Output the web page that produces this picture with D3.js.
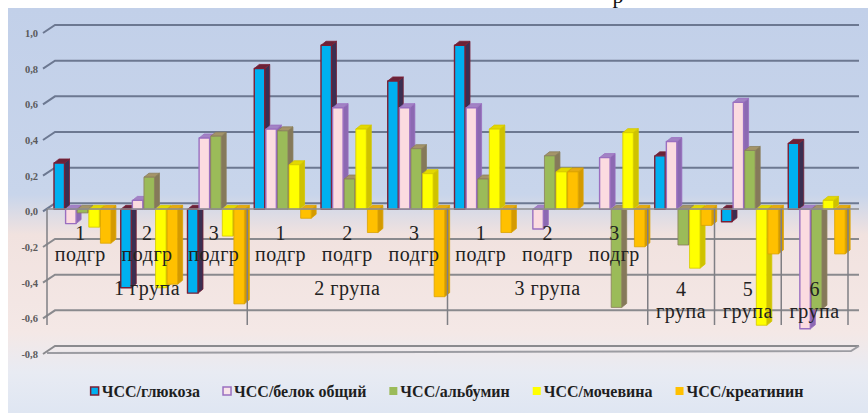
<!DOCTYPE html>
<html>
<head>
<meta charset="utf-8">
<script src="https://cdn.jsdelivr.net/npm/d3@7"></script>
<style>
  html, body { margin: 0; padding: 0; background: #ffffff; }
  svg { display: block; }
  .serif { font-family: "Liberation Serif", "Times New Roman", "DejaVu Serif", serif; }
</style>
</head>
<body>
<svg id="chart" width="868" height="413"></svg>
<script>
// ---- data ----
const groupNames = ["1 група", "2 група", "3 група", "4 група", "5 група", "6 група"];
const subgroupNames = ["1 подгр", "2 подгр", "3 подгр",
                       "1 подгр", "2 подгр", "3 подгр",
                       "1 подгр", "2 подгр", "3 подгр",
                       "", "", ""];
const categoryGroup = [0, 0, 0, 1, 1, 1, 2, 2, 2, 3, 4, 5];
const seriesNames = ["ЧСС/глюкоза", "ЧСС/белок общий", "ЧСС/альбумин", "ЧСС/мочевина", "ЧСС/креатинин"];
const glucose      = [ 0.26, -0.44, -0.47,  0.79,  0.92,  0.72,  0.92,  0.00,  0.00,  0.30, -0.07,  0.37];
const totalProtein = [-0.08,  0.05,  0.40,  0.45,  0.57,  0.57,  0.57, -0.11,  0.29,  0.38,  0.60, -0.67];
const albumin      = [-0.02,  0.18,  0.41,  0.44,  0.17,  0.34,  0.17,  0.30, -0.55, -0.20,  0.33, -0.56];
const urea         = [-0.10, -0.44, -0.15,  0.25,  0.45,  0.20,  0.45,  0.21,  0.43, -0.33, -0.65,  0.05];
const creatinine   = [-0.19, -0.42, -0.53, -0.05, -0.13, -0.49, -0.13,  0.21, -0.21, -0.09, -0.25, -0.25];
const tickValues = [-0.8, -0.6, -0.4, -0.2, 0, 0.2, 0.4, 0.6, 0.8, 1.0];

const seriesValues = [glucose, totalProtein, albumin, urea, creatinine];

// ---- styles ----
const barStyles = [
  { front: "#00b0f0", side: "#3a2f52", top: "#6a2238", stroke: "#7a1f35" },
  { front: "#fbdbe0", side: "#8c69b2", top: "#a283c4", stroke: "#9a6fc0" },
  { front: "#9bbb59", side: "#85795a", top: "#a49469", stroke: "#8a7f5c" },
  { front: "#ffff00", side: "#cfc200", top: "#e3d800", stroke: "#d4c800" },
  { front: "#ffc000", side: "#d49a00", top: "#e6ab10", stroke: "#dba200" }
];
const legendStyles = [
  { fill: "#00b0f0", stroke: "#7a1f35" },
  { fill: "#f8e4ea", stroke: "#9a6fc0" },
  { fill: "#9bbb59", stroke: "none" },
  { fill: "#ffff00", stroke: "none" },
  { fill: "#ffc000", stroke: "none" }
];

const svg = d3.select("#chart");

// ---- background ----
const defs = svg.append("defs");
const bg = defs.append("linearGradient").attr("id", "bgGrad")
  .attr("x1", 0).attr("y1", 0).attr("x2", 0).attr("y2", 1);
[["0%", "#c2d0e9"], ["46%", "#c8d5eb"], ["56%", "#f1e2df"], ["80%", "#f4e8e6"],
 ["90%", "#e8ebf3"], ["100%", "#dfe6f2"]].forEach(([o, c]) =>
  bg.append("stop").attr("offset", o).attr("stop-color", c));

svg.append("rect").attr("x", 0).attr("y", 0).attr("width", 868).attr("height", 413).attr("fill", "#ffffff");
svg.append("rect").attr("x", 8).attr("y", 8).attr("width", 860).attr("height", 405).attr("fill", "url(#bgGrad)");

// tail of the heading above the chart
svg.append("text").attr("class", "serif").attr("x", 618).attr("y", 3).attr("text-anchor", "middle")
  .attr("font-size", 22).attr("fill", "#111").text("р");

// ---- scales ----
const categoryKeys = d3.range(subgroupNames.length).map(String);
const x0 = d3.scaleBand().domain(categoryKeys).range([47, 848]).padding(0);
const x1 = d3.scaleBand().domain(seriesNames).range([7, 65]).padding(0);
const yLabel = d3.scaleLinear().domain([-0.8, 1.0]).range([354, 33]);
const yBar = d3.scaleLinear().domain([-0.8, 1.0]).range([352, 31]);
const yBack = d3.scaleLinear().domain([-0.8, 1.0]).range([346, 25]);

// ---- back-wall gridlines ----
const grid = svg.append("g");
tickValues.filter(v => v > -0.8).forEach(v => {
  grid.append("path")
    .attr("d", `M43,${yLabel(v)} L55,${yBack(v)} L859,${yBack(v)}`)
    .attr("fill", "none").attr("stroke", v >= 0 ? "#6c7891" : "#8a8a8e")
    .attr("stroke-width", 2);
});
// floor
grid.append("path").attr("d", `M43,${yLabel(-0.8)} L55,${yBack(-0.8)} L859,${yBack(-0.8)}`)
  .attr("fill", "none").attr("stroke", "#8a8a8e").attr("stroke-width", 2);
grid.append("path").attr("d", `M47,${yLabel(-0.8) - 1} L851,${yLabel(-0.8) - 3} L859,${yBack(-0.8)}`)
  .attr("fill", "none").attr("stroke", "#9c9ca2").attr("stroke-width", 2);

// ---- value axis labels ----
const fmt = d => d3.format(".1f")(d).replace(".", ",").replace("\u2212", "-");
const yAxis = svg.append("g").attr("transform", "translate(38,0)")
  .call(d3.axisLeft(yLabel).tickValues(tickValues).tickFormat(fmt).tickSize(0).tickPadding(0));
yAxis.select(".domain").remove();
yAxis.attr("font-family", null);
yAxis.selectAll("text").attr("class", "serif").attr("font-size", 10.5)
  .attr("font-weight", "bold").attr("fill", "#5a5a5a");

// ---- 3-D columns ----
const dx = 5, dy = 4, bw = 10.5;
const bars = svg.append("g");
categoryKeys.forEach((key, i) => {
  seriesNames.forEach((name, s) => {
    const v = seriesValues[s][i];
    if (v === 0) return;
    const st = barStyles[s];
    const x = x0(key) + x1(name);
    const y0 = yBar(0), yv = yBar(v);
    const top = Math.min(y0, yv), bottom = Math.max(y0, yv);
    const g = bars.append("g").attr("stroke", st.stroke).attr("stroke-width", 0.8)
      .attr("stroke-linejoin", "round");
    g.append("path").attr("fill", st.side)
      .attr("d", `M${x + bw},${top} L${x + bw + dx},${top - dy} L${x + bw + dx},${bottom - dy} L${x + bw},${bottom} Z`);
    g.append("path").attr("fill", st.top)
      .attr("d", `M${x},${top} L${x + dx},${top - dy} L${x + bw + dx},${top - dy} L${x + bw},${top} Z`);
    g.append("rect").attr("x", x).attr("y", top).attr("width", bw).attr("height", bottom - top)
      .attr("fill", st.front).attr("stroke-width", s < 2 ? 1.4 : 0.8);
  });
});

// ---- category axis (two levels) ----
const axisG = svg.append("g");
const axisY = 209;
axisG.append("line").attr("x1", 47).attr("x2", 859).attr("y1", axisY).attr("y2", axisY)
  .attr("stroke", "#8c8c90").attr("stroke-width", 1.5);

const groupSpans = groupNames.map((name, g) => {
  const idx = categoryGroup.map((c, i) => c === g ? i : -1).filter(i => i >= 0);
  const a = x0(String(idx[0]));
  const b = x0(String(idx[idx.length - 1])) + x0.bandwidth();
  return { name, a, b, count: idx.length };
});
const boundaries = Array.from(new Set(groupSpans.flatMap(d => [d.a, d.b])));
boundaries.forEach(bx => {
  axisG.append("line").attr("x1", bx).attr("x2", bx).attr("y1", axisY).attr("y2", 325)
    .attr("stroke", "#7f7f84").attr("stroke-width", 1.5);
});

function label(x, y, str) {
  axisG.append("text").attr("class", "serif").attr("x", x).attr("y", y)
    .attr("text-anchor", "middle").attr("font-size", 20).attr("letter-spacing", 0.5)
    .attr("fill", "#222222").text(str);
}
categoryKeys.forEach((key, i) => {
  const lbl = subgroupNames[i];
  if (!lbl) return;
  const parts = lbl.split(" ");
  const cx = x0(key) + x0.bandwidth() / 2;
  label(cx, 240, parts[0]);
  label(cx, 261, parts[1]);
});
groupSpans.forEach(d => {
  const cx = (d.a + d.b) / 2;
  if (d.count > 1) {
    label(cx, 295, d.name);
  } else {
    const parts = d.name.split(" ");
    label(cx, 296, parts[0]);
    label(cx, 318, parts[1]);
  }
});

// ---- legend ----
const legend = svg.append("g");
const items = seriesNames.map((name, s) => {
  const g = legend.append("g");
  g.append("rect").attr("x", 0).attr("y", -10).attr("width", 8).attr("height", 8)
    .attr("fill", legendStyles[s].fill).attr("stroke", legendStyles[s].stroke).attr("stroke-width", 1.5);
  const t = g.append("text").attr("class", "serif").attr("x", 11).attr("y", 0)
    .attr("font-size", 16).attr("font-weight", "bold")
    .attr("fill", "#1e1e1e").text(name);
  return { g, w: 11 + t.node().getComputedTextLength() };
});
const gap = 23;
const total = d3.sum(items, d => d.w) + gap * (items.length - 1);
let lx = 447 - total / 2;
items.forEach(d => { d.g.attr("transform", `translate(${lx},397)`); lx += d.w + gap; });
</script>
</body>
</html>
